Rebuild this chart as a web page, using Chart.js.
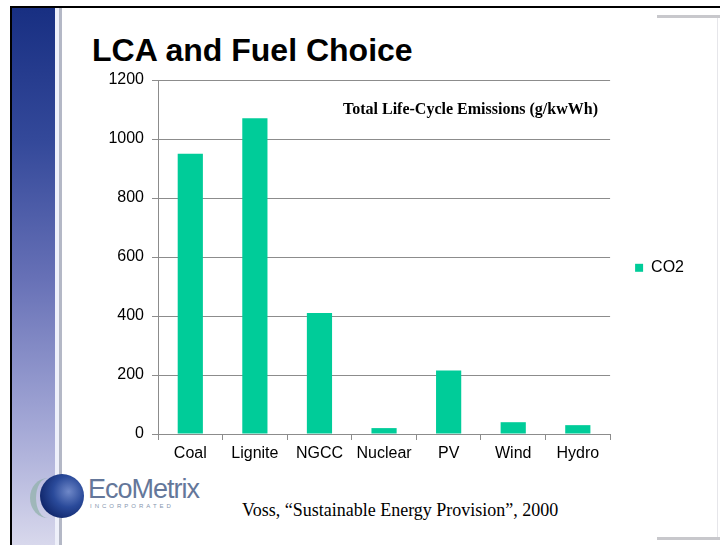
<!DOCTYPE html>
<html>
<head>
<meta charset="utf-8">
<script src="https://cdn.jsdelivr.net/npm/chart.js@4"></script>
<style>
  html, body { margin: 0; padding: 0; background: #fff; }
  #slide { position: relative; width: 720px; height: 545px; overflow: hidden; background: #fff; }
  .frameTop { position: absolute; left: 10px; top: 6px; width: 710px; height: 2px; background: #000; }
  .frameLeft { position: absolute; left: 10px; top: 6px; width: 2px; height: 539px; background: #000; }
  .band { position: absolute; left: 12px; top: 8px; width: 43px; height: 537px;
          background: linear-gradient(to bottom, #182f82 0%, #34499a 25%, #6670b6 50%, #a4a8d6 78%, #d8d8ec 100%); }
  .bandEdge { position: absolute; left: 55px; top: 8px; width: 4px; height: 537px; background: #eef0fa; }
  .bandLine { position: absolute; left: 59px; top: 8px; width: 3px; height: 537px; background: #b4b8c6; }
  .cornerTop { position: absolute; left: 657px; top: 15px; width: 63px; height: 3px; background: #c8c8cc; }
  .cornerBot { position: absolute; left: 657px; top: 537px; width: 63px; height: 3px; background: #c8c8cc; }
  .cornerRight { position: absolute; left: 717px; top: 18px; width: 1px; height: 519px; background: #e6e6ea; }
  h1 { position: absolute; left: 92px; top: 34px; margin: 0; font: bold 32px/32px "Liberation Sans", Arial, sans-serif; color: #000; }
  .inner { position: absolute; left: 343px; top: 100px; font: bold 16px "Liberation Serif", "Times New Roman", serif; color: #000; white-space: nowrap; }
  .src { position: absolute; left: 242px; top: 500px; font: 18px "Liberation Serif", "Times New Roman", serif; color: #000; white-space: nowrap; }
  .logoText { position: absolute; left: 88px; top: 474px; font: 27px "Liberation Sans", Arial, sans-serif; color: #64779a; letter-spacing: -1px; }
  .logoSub { position: absolute; left: 90px; top: 503px; font: 6px "Liberation Sans", Arial, sans-serif; color: #8595ae; letter-spacing: 3px; }
  .sphere { position: absolute; left: 40px; top: 474px; width: 44px; height: 44px; border-radius: 50%;
            background: radial-gradient(circle at 65% 40%, #6f88c8 0%, #2a4a9a 40%, #0e2366 80%); }
  .swoosh { position: absolute; left: 30px; top: 478px; width: 30px; height: 40px; border-radius: 50%;
            border-left: 6px solid #8fb1a8; opacity: 0.7; }
  #chart { position: absolute; left: 0; top: 0; }
</style>
</head>
<body>
<div id="slide">
  <div class="band"></div>
  <div class="bandEdge"></div>
  <div class="bandLine"></div>
  <div class="frameTop"></div>
  <div class="frameLeft"></div>
  <div class="cornerTop"></div>
  <div class="cornerBot"></div>
  <div class="cornerRight"></div>
  <h1>LCA and Fuel Choice</h1>
  <div class="swoosh"></div>
  <div class="sphere"></div>
  <div class="logoText">EcoMetrix</div>
  <div class="logoSub">INCORPORATED</div>
  <div class="src">Voss, “Sustainable Energy Provision”, 2000</div>
  <canvas id="chart" width="720" height="545"></canvas>
  <div class="inner">Total Life-Cycle Emissions (g/kwWh)</div>
</div>
<script>
const fuels = ['Coal', 'Lignite', 'NGCC', 'Nuclear', 'PV', 'Wind', 'Hydro'];
const co2 = [950, 1070, 410, 20, 215, 40, 30];
const yTicks = [0, 200, 400, 600, 800, 1000, 1200];

const GREEN = '#00cc99';
const AXIS = '#8c8c8c';
const FONT = { family: '"Liberation Sans", Arial, sans-serif', size: 16 };

new Chart(document.getElementById('chart'), {
  type: 'bar',
  data: {
    labels: fuels,
    datasets: [{
      label: 'CO2',
      data: co2,
      backgroundColor: GREEN,
      borderWidth: 0,
      categoryPercentage: 1,
      barPercentage: 0.39,
    }]
  },
  options: {
    responsive: false,
    animation: false,
    devicePixelRatio: 1,
    layout: { padding: { left: 98, top: 80, right: 26, bottom: 71 } },
    plugins: {
      tooltip: { enabled: false },
      legend: {
        display: true,
        position: 'right',
        fullSize: false,
        // empty title only nudges the single entry down a little
        title: { display: true, text: ' ', padding: 0, font: { size: 18 } },
        labels: { color: '#000', font: FONT, boxWidth: 8, boxHeight: 8, padding: 25 }
      }
    },
    scales: {
      x: {
        grid: { display: true, drawOnChartArea: false, drawTicks: true, tickLength: 6, color: AXIS, offset: true },
        border: { display: true, color: AXIS },
        ticks: { color: '#000', font: FONT, padding: 4, maxRotation: 0, autoSkip: false },
        afterFit: s => { s.height = 40; }
      },
      y: {
        min: 0, max: 1200,
        afterBuildTicks: s => { s.ticks = yTicks.map(v => ({ value: v })); },
        grid: { color: AXIS, tickLength: 6 },
        border: { display: true, color: AXIS },
        ticks: { color: '#000', font: FONT, padding: 8, callback: v => String(v) },
        afterFit: s => { s.width = 60; }
      }
    }
  }
});
</script>
</body>
</html>
